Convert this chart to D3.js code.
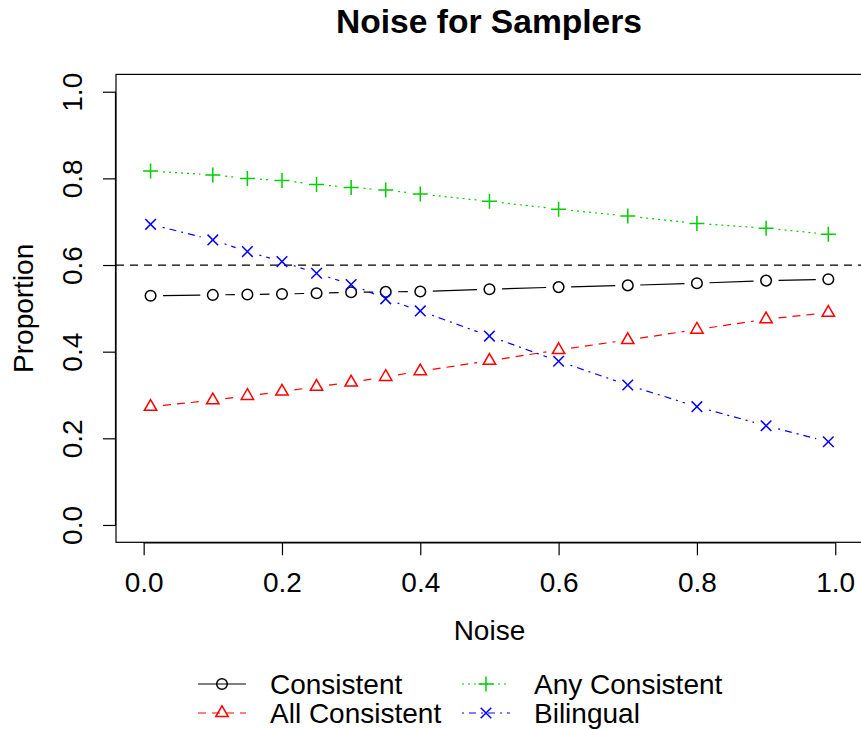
<!DOCTYPE html>
<html>
<head>
<meta charset="utf-8">
<script src="https://cdn.jsdelivr.net/npm/d3@7"></script>
<style>
  body { margin: 0; background: #fff; }
  svg { display: block; font-family: "Liberation Sans", Arial, sans-serif; }
</style>
</head>
<body>
<svg id="canvas" width="861" height="729"></svg>
<script>
// noise levels on the x axis
const noise = [0.01, 0.1, 0.15, 0.2, 0.25, 0.3, 0.35, 0.4, 0.5, 0.6, 0.7, 0.8, 0.9, 0.99];

// proportions
const consistent    = [0.529, 0.531, 0.532, 0.533, 0.535, 0.537, 0.538, 0.539, 0.544, 0.549, 0.553, 0.558, 0.564, 0.567];
const allConsistent = [0.273, 0.288, 0.298, 0.308, 0.319, 0.329, 0.342, 0.355, 0.379, 0.404, 0.427, 0.451, 0.475, 0.490];
const anyConsistent = [0.817, 0.808, 0.800, 0.795, 0.786, 0.779, 0.773, 0.764, 0.747, 0.729, 0.713, 0.696, 0.685, 0.671];
const bilingual     = [0.694, 0.658, 0.631, 0.608, 0.581, 0.555, 0.522, 0.494, 0.436, 0.378, 0.323, 0.273, 0.229, 0.192];

const ticks = [0, 0.2, 0.4, 0.6, 0.8, 1.0];
const refLine = 0.6;

const series = [
    { name: "Consistent",     values: consistent,    color: "#000000", dash: null,      shape: "circle" },
    { name: "All Consistent", values: allConsistent, color: "#ff0000", dash: "8,6",     shape: "triangle" },
    { name: "Any Consistent", values: anyConsistent, color: "#00cd00", dash: "2,4",     shape: "plus" },
    { name: "Bilingual",      values: bilingual,     color: "#0000ff", dash: "2,5,7,5", shape: "cross" }
];

const svg = d3.select("#canvas");
const fontSize = 28;

// R style: limits 0..1 widened by 4%
const x = d3.scaleLinear().domain([-0.04, 1.04]).range([116, 862.9]);
const y = d3.scaleLinear().domain([-0.04, 1.04]).range([542.3, 74.4]);

// plot box
svg.append("rect")
    .attr("x", x(-0.04)).attr("y", y(1.04))
    .attr("width", x(1.04) - x(-0.04)).attr("height", y(-0.04) - y(1.04))
    .attr("fill", "none").attr("stroke", "#000").attr("stroke-width", 1.2);

// x axis
const xAxis = svg.append("g")
    .attr("transform", `translate(0,${y(-0.04)})`)
    .call(d3.axisBottom(x).tickValues(ticks).tickSize(13).tickPadding(17).tickFormat(d3.format(".1f")));
xAxis.select(".domain")
    .attr("d", `M${x(0)},0.5H${x(1)}`);

// y axis
const yAxis = svg.append("g")
    .attr("transform", `translate(${x(-0.04)},0)`)
    .call(d3.axisLeft(y).tickValues(ticks).tickSize(13).tickFormat(d3.format(".1f")));
yAxis.select(".domain")
    .attr("d", `M-0.5,${y(0)}V${y(1)}`);
yAxis.selectAll(".tick text")
    .attr("x", null).attr("dy", null)
    .attr("text-anchor", "middle")
    .attr("transform", "translate(-34,0) rotate(-90)");

svg.selectAll(".tick line, .domain").attr("stroke", "#000").attr("stroke-width", 1.2);
svg.selectAll(".tick text").attr("font-size", fontSize).attr("font-family", "Liberation Sans, Arial, sans-serif").attr("fill", "#000");

// titles
svg.append("text")
    .attr("x", 489).attr("y", 33)
    .attr("text-anchor", "middle")
    .attr("font-size", fontSize * 1.2).attr("font-weight", "bold")
    .text("Noise for Samplers");

svg.append("text")
    .attr("x", x(0.5)).attr("y", 640)
    .attr("text-anchor", "middle")
    .attr("font-size", fontSize)
    .text("Noise");

svg.append("text")
    .attr("transform", `translate(33,${y(0.5)}) rotate(-90)`)
    .attr("text-anchor", "middle")
    .attr("font-size", fontSize)
    .text("Proportion");

// reference line at 0.6
svg.append("line")
    .attr("x1", x(-0.04)).attr("x2", x(1.04))
    .attr("y1", y(refLine)).attr("y2", y(refLine))
    .attr("stroke", "#000").attr("stroke-dasharray", "8,6").attr("stroke-width", 1.2);

// symbols
function drawSymbol(g, shape, cx, cy, color) {
    const r = 5.3;
    if (shape === "circle") {
        g.append("circle").attr("cx", cx).attr("cy", cy).attr("r", r)
            .attr("fill", "none").attr("stroke", color).attr("stroke-width", 1.5);
    } else if (shape === "triangle") {
        const xc = 4.6;
        const top = cy - 1.555 * xc, bot = cy + 0.778 * xc, h = 1.347 * xc;
        g.append("path")
            .attr("d", `M${cx},${top}L${cx + h},${bot}L${cx - h},${bot}Z`)
            .attr("fill", "none").attr("stroke", color).attr("stroke-width", 1.5);
    } else if (shape === "plus") {
        const s = 7.5;
        g.append("path")
            .attr("d", `M${cx - s},${cy}H${cx + s}M${cx},${cy - s}V${cy + s}`)
            .attr("stroke", color).attr("stroke-width", 1.5);
    } else {
        const s = 5.3;
        g.append("path")
            .attr("d", `M${cx - s},${cy - s}L${cx + s},${cy + s}M${cx - s},${cy + s}L${cx + s},${cy - s}`)
            .attr("stroke", color).attr("stroke-width", 1.5);
    }
}

// type = "b": segments stop short of the points
const gap = 12.5;
series.forEach(s => {
    const g = svg.append("g");
    const pts = noise.map((n, i) => [x(n), y(s.values[i])]);
    for (let i = 0; i < pts.length - 1; i++) {
        const [x0, y0] = pts[i], [x1, y1] = pts[i + 1];
        const len = Math.hypot(x1 - x0, y1 - y0);
        if (len <= 2 * gap) continue;
        const ux = (x1 - x0) / len, uy = (y1 - y0) / len;
        g.append("line")
            .attr("x1", x0 + ux * gap).attr("y1", y0 + uy * gap)
            .attr("x2", x1 - ux * gap).attr("y2", y1 - uy * gap)
            .attr("stroke", s.color).attr("stroke-width", 1.2)
            .attr("stroke-dasharray", s.dash);
    }
    pts.forEach(p => drawSymbol(g, s.shape, p[0], p[1], s.color));
});

// legend, two columns
const legend = svg.append("g");
const legendPos = [[198, 684], [198, 713], [462, 684], [462, 713]];
series.forEach((s, i) => {
    const [lx, ly] = legendPos[i];
    legend.append("line")
        .attr("x1", lx).attr("x2", lx + 48).attr("y1", ly).attr("y2", ly)
        .attr("stroke", s.color).attr("stroke-width", 1.2).attr("stroke-dasharray", s.dash);
    drawSymbol(legend, s.shape, lx + 24, ly, s.color);
    legend.append("text")
        .attr("x", lx + 72).attr("y", ly + 10)
        .attr("font-size", fontSize)
        .text(s.name);
});
</script>
</body>
</html>
